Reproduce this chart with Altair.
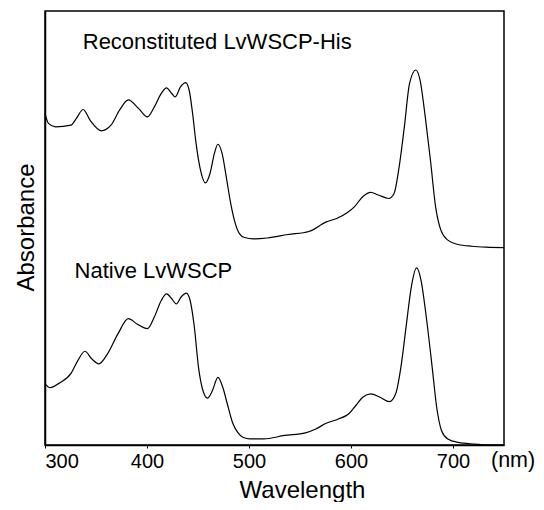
import altair as alt
import pandas as pd

# Reconstituted LvWSCP-His spectrum (arbitrary absorbance units, offset)
recon_wl = [300, 303.4, 310.2, 325.5, 330.6, 337.4, 344.3, 355.1, 364.7, 373.2,
            381.7, 391.9, 400.4, 407.2, 414.0, 419.1, 424.3, 427.7, 432.8, 437.9,
            441.3, 444.7, 448.1, 452.5, 457.3, 461.7, 466.1, 469.5, 473.6, 477.7,
            482.1, 486.6, 490.6, 495.7, 504.3, 517.9, 538.3, 558.7, 575.7, 586.0,
            596.2, 603.0, 611.5, 619.3, 626.8, 637.0, 642.1, 647.2, 652.3, 657.4,
            663.6, 667.7, 672.8, 677.9, 683.0, 688.1, 694.9, 705.1, 718.7, 732.3,
            750]
recon_abs = [0.764, 0.741, 0.733, 0.737, 0.752, 0.773, 0.748, 0.724, 0.737, 0.772,
             0.795, 0.775, 0.756, 0.779, 0.810, 0.823, 0.810, 0.802, 0.825, 0.835,
             0.818, 0.764, 0.695, 0.633, 0.604, 0.625, 0.672, 0.693, 0.672, 0.618,
             0.556, 0.510, 0.487, 0.478, 0.475, 0.477, 0.485, 0.492, 0.514, 0.522,
             0.535, 0.548, 0.572, 0.582, 0.576, 0.568, 0.579, 0.641, 0.733, 0.833,
             0.864, 0.841, 0.756, 0.656, 0.548, 0.495, 0.472, 0.462, 0.458, 0.456,
             0.455]

# Native LvWSCP spectrum
native_wl = [300, 305.1, 313.6, 325.5, 332.3, 339.1, 346.0, 352.8, 361.3, 371.5,
             381.7, 390.2, 400.4, 407.2, 414.0, 419.1, 424.3, 428.7, 433.4, 438.6,
             442.3, 446.4, 450.5, 454.9, 459.3, 464.1, 469.5, 474.3, 478.7, 483.8,
             488.9, 494.0, 500.9, 514.5, 534.9, 555.3, 565.5, 575.7, 587.7, 597.9,
             604.7, 611.5, 619.3, 628.5, 637.7, 643.8, 648.9, 654.0, 659.1, 664.3,
             668.7, 673.8, 679.6, 684.0, 688.8, 694.9, 705.1, 722.1, 732.3, 750]
native_abs = [0.141, 0.132, 0.142, 0.165, 0.195, 0.216, 0.198, 0.187, 0.210, 0.256,
              0.291, 0.279, 0.268, 0.295, 0.333, 0.348, 0.337, 0.325, 0.341, 0.350,
              0.333, 0.272, 0.179, 0.125, 0.108, 0.125, 0.156, 0.133, 0.095, 0.052,
              0.029, 0.018, 0.014, 0.014, 0.022, 0.028, 0.037, 0.050, 0.060, 0.072,
              0.091, 0.110, 0.118, 0.110, 0.100, 0.118, 0.179, 0.272, 0.364, 0.408,
              0.379, 0.295, 0.179, 0.087, 0.033, 0.014, 0.006, 0.002, 0.000, 0.000]

x_ticks = [300, 400, 500, 600, 700]
series_names = ["Reconstituted LvWSCP-His", "Native LvWSCP"]
label_wl = [337, 329]
label_abs = [0.912, 0.385]
unit_text = ["(nm)"]

FONT = "Liberation Sans"

rows = []
for w, a in zip(recon_wl, recon_abs):
    rows.append({"wavelength": w, "absorbance": a, "sample": series_names[0]})
for w, a in zip(native_wl, native_abs):
    rows.append({"wavelength": w, "absorbance": a, "sample": series_names[1]})
df = pd.DataFrame(rows)

ann_df = pd.DataFrame({"label": series_names, "wavelength": label_wl, "absorbance": label_abs})

x_enc = alt.X(
    "wavelength:Q",
    scale=alt.Scale(domain=[300, 750], nice=False, zero=False),
    axis=alt.Axis(
        values=x_ticks, title="Wavelength", grid=False,
        labelBaseline="alphabetic", labelPadding=19,
        titleX=257, titleY=52, titleBaseline="alphabetic", titleAlign="center",
    ),
)
y_enc = alt.Y(
    "absorbance:Q",
    scale=alt.Scale(domain=[0, 1], nice=False, zero=False),
    axis=alt.Axis(
        title="Absorbance", labels=False, ticks=False, grid=False,
        titleAngle=270, titleX=-12, titleY=216, titleBaseline="alphabetic", titleAlign="center",
    ),
)

lines = alt.Chart(df).mark_line(
    color="black", strokeWidth=1.2, interpolate="monotone"
).encode(x=x_enc, y=y_enc, detail="sample:N")

ann = alt.Chart(ann_df).mark_text(
    align="left", baseline="alphabetic", fontSize=22, font=FONT, color="black"
).encode(x="wavelength:Q", y="absorbance:Q", text="label:N")

unit = alt.Chart(pd.DataFrame({"t": unit_text})).mark_text(
    align="left", baseline="alphabetic", fontSize=21.5, font=FONT, color="black"
).encode(x=alt.value(446), y=alt.value(456), text="t:N")

chart = alt.layer(lines, ann, unit).properties(
    width=459, height=434,
    autosize=alt.AutoSizeParams(type="none"),
    padding={"left": 37, "top": 3, "right": 32, "bottom": 57},
).configure_view(
    stroke="black", strokeWidth=1.5
).configure_axis(
    domainColor="black", domainWidth=1.5, tickColor="black", tickSize=3,
    labelFont=FONT, labelFontSize=20, labelColor="black",
    titleFont=FONT, titleFontSize=24, titleFontWeight="normal", titleColor="black",
)

chart.save("out.html", embed_options={"renderer": "svg", "actions": False})
